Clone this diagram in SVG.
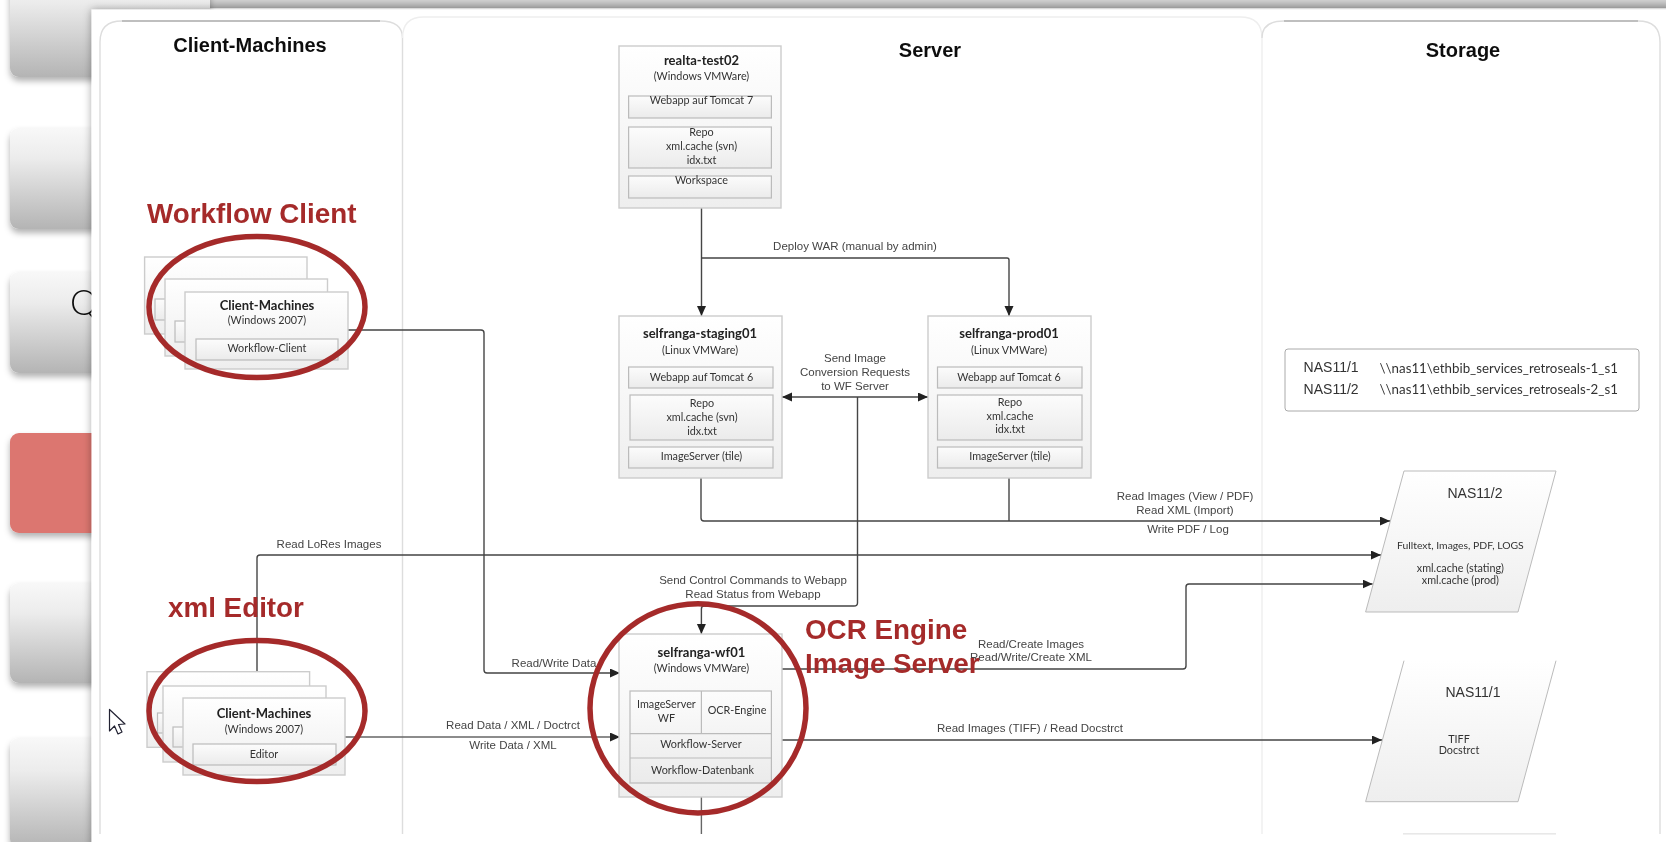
<svg xmlns="http://www.w3.org/2000/svg" width="1666" height="842" viewBox="0 0 1666 842">
<style>
.t{font-family:"Lato","Noto Sans",sans-serif;fill:#333;font-size:10.8px;text-anchor:middle}
.b{font-weight:700;font-size:13px;fill:#222}
.e{font-family:"Liberation Sans",Arial,sans-serif;fill:#444;font-size:11.5px;text-anchor:middle}
.h{font-family:"Liberation Sans",Arial,sans-serif;fill:#111;font-size:20px;font-weight:700;text-anchor:middle}
.a{font-family:"Liberation Sans",Arial,sans-serif;fill:#a52c2a;font-size:27.8px;font-weight:700}
.n{font-family:"Liberation Sans",Arial,sans-serif;fill:#333;font-size:14px}
.card{fill:url(#g1);stroke:#ccc;stroke-width:1.4}
.in{fill:url(#g2);stroke:#bbb;stroke-width:1.2}
.ring{fill:none;stroke:#a52c2a;stroke-width:5.5}
.panel{fill:none;stroke:#ddd;stroke-width:1.4}
.c{fill:none;stroke:#444;stroke-width:1.4;stroke-linejoin:round}
.btn{filter:url(#sh);fill:url(#g3)}
</style>
<defs>
<linearGradient id="g1" x1="0" y1="0" x2="0" y2="1"><stop offset="0" stop-color="#fff"/><stop offset="1" stop-color="#eee"/></linearGradient>
<linearGradient id="g2" x1="0" y1="0" x2="0" y2="1"><stop offset="0" stop-color="#fcfcfc"/><stop offset="1" stop-color="#ebebeb"/></linearGradient>
<linearGradient id="g3" x1="0" y1="0" x2="0" y2="1"><stop offset="0" stop-color="#f8f8f8"/><stop offset=".3" stop-color="#ececec"/><stop offset="1" stop-color="#b4b4b4"/></linearGradient>
<linearGradient id="g4" x1="0" y1="0" x2="0" y2="1"><stop offset="0" stop-color="#e8e8e8"/><stop offset="1" stop-color="#b0b0b0"/></linearGradient>
<filter id="sh" x="-10%" y="-10%" width="120%" height="125%"><feDropShadow dx="0" dy="4" stdDeviation="3" flood-color="#000" flood-opacity=".3"/></filter>
<filter id="ws" x="-5%" y="-5%" width="110%" height="110%"><feDropShadow dx="0" dy="0" stdDeviation="4" flood-color="#000" flood-opacity=".35"/></filter>
<filter id="soft" filterUnits="userSpaceOnUse" x="0" y="0" width="1666" height="842"><feGaussianBlur stdDeviation="0.45"/></filter>
<marker id="ar" markerUnits="userSpaceOnUse" markerWidth="11" markerHeight="10" refX="10" refY="4.5" orient="auto-start-reverse"><path d="M0 0L10 4.5L0 9z" fill="#222"/></marker>
</defs>
<rect width="1666" height="842" fill="#fff"/>
<g id="diagram" filter="url(#soft)">
<g id="background">
<rect x="91" y="-6" width="1575" height="14" fill="url(#g4)"/>
<rect class="btn" x="10" y="-30" width="200" height="107" rx="9"/>
<rect class="btn" x="10" y="128" width="200" height="101" rx="9"/>
<rect class="btn" x="10" y="272" width="200" height="101" rx="9"/>
<rect x="10" y="433" width="200" height="100" rx="9" fill="#dc7670" filter="url(#sh)"/>
<rect class="btn" x="10" y="583" width="200" height="100" rx="9"/>
<rect class="btn" x="10" y="738" width="200" height="110" rx="9"/>
<text x="70" y="315" font-family="Lato,sans-serif" font-size="35" font-weight="300" fill="#111">Q</text>
</g>
<rect id="window" x="91.5" y="9.500" width="1600" height="860" fill="#fff" filter="url(#ws)"/>
<g id="panels">
<path class="panel" d="M100 834V42Q100 21 122 21H380Q402.500 21 402.500 38V834"/>
<path d="M122 21H380" fill="none" stroke="#999" stroke-width="1"/>
<path class="panel" d="M402.500 38Q402.500 17 424 17H1240Q1262 17 1262 38V834" style="stroke:#eee"/>
<path class="panel" d="M1262 38Q1262 21 1284 21H1638Q1660 21 1660 42V834"/>
<path d="M1284 21H1638" fill="none" stroke="#999" stroke-width="1"/>
<text class="h" x="250" y="52">Client-Machines</text>
<text class="h" x="930" y="57">Server</text>
<text class="h" x="1463" y="57">Storage</text>
</g>
<g id="connectors">
<path class="c" d="M701.500 208V316" marker-end="url(#ar)"/>
<path class="c" d="M701.500 258H1007Q1009 258 1009 260V316" marker-end="url(#ar)"/>
<path class="c" d="M782 397H928" marker-start="url(#ar)" marker-end="url(#ar)"/>
<path class="c" d="M857.500 397V603Q857.500 606 854 606H704Q701.400 606 701.400 609V634" marker-end="url(#ar)"/>
<path class="c" d="M701 478V518Q701 521 704 521H1390" marker-end="url(#ar)"/>
<path class="c" d="M1009 478V521"/>
<path class="c" d="M348 330H481Q484 330 484 333V670Q484 673 487 673H620" marker-end="url(#ar)"/>
<path class="c" d="M257 672V558Q257 555 260 555H1381" marker-end="url(#ar)"/>
<path class="c" d="M345 737H620" marker-end="url(#ar)" style="stroke:#666"/>
<path class="c" d="M782 669H1183Q1186 669 1186 666V587Q1186 584 1189 584H1372.600" marker-end="url(#ar)"/>
<path class="c" d="M782 740H1382" marker-end="url(#ar)"/>
<path class="c" d="M701.400 797V834" style="stroke:#666"/>
<text class="e" x="855" y="250">Deploy WAR (manual by admin)</text>
<text class="e"><tspan x="855" y="362">Send Image</tspan><tspan x="855" y="376">Conversion Requests</tspan><tspan x="855" y="390">to WF Server</tspan></text>
<text class="e" x="329" y="548">Read LoRes Images</text>
<text class="e"><tspan x="753" y="584">Send Control Commands to Webapp</tspan><tspan x="753" y="598">Read Status from Webapp</tspan></text>
<text class="e" x="554" y="666.700">Read/Write Data</text>
<text class="e" x="513" y="728.700">Read Data / XML / Doctrct</text>
<text class="e" x="513" y="749">Write Data / XML</text>
<text class="e"><tspan x="1031" y="647.700">Read/Create Images</tspan><tspan x="1031" y="661">Read/Write/Create XML</tspan></text>
<text class="e" x="1030" y="731.700">Read Images (TIFF) / Read Docstrct</text>
<text class="e"><tspan x="1185" y="500">Read Images (View / PDF)</tspan><tspan x="1185" y="514">Read XML (Import)</tspan><tspan x="1188" y="532.700">Write PDF / Log</tspan></text>
</g>
<g id="client-workflow">
<rect class="card" x="144.600" y="257" width="162.400" height="77"/>
<rect class="in" x="155" y="299" width="40" height="21"/>
<rect class="card" x="165" y="279" width="162.500" height="77"/>
<rect class="in" x="175" y="321" width="40" height="21"/>
<rect class="card" x="185" y="292" width="163" height="77"/>
<rect class="in" x="196" y="339" width="142" height="21"/>
<text class="t b" x="267" y="309.500">Client-Machines</text>
<text class="t" x="267" y="324">(Windows 2007)</text>
<text class="t" x="267" y="352">Workflow-Client</text>
</g>
<g id="client-editor">
<rect class="card" x="147" y="671.700" width="162.600" height="75.600"/>
<rect class="in" x="157.500" y="713" width="40" height="20"/>
<rect class="card" x="163" y="686" width="163" height="76"/>
<rect class="in" x="173" y="727" width="40" height="20"/>
<rect class="card" x="183" y="698" width="162" height="77"/>
<rect class="in" x="193" y="744" width="143" height="21"/>
<text class="t b" x="264" y="717.700">Client-Machines</text>
<text class="t" x="264" y="732.700">(Windows 2007)</text>
<text class="t" x="264" y="758">Editor</text>
</g>
<g id="realta-test02">
<rect class="card" x="619" y="46" width="162" height="162"/>
<rect class="in" x="628.600" y="96" width="142.800" height="22"/>
<rect class="in" x="628.600" y="127" width="142.800" height="41"/>
<rect class="in" x="628.600" y="176" width="142.800" height="22"/>
<text class="t b" x="701.500" y="65">realta-test02</text>
<text class="t" x="701.500" y="80">(Windows VMWare)</text>
<text class="t" x="701.500" y="104">Webapp auf Tomcat 7</text>
<text class="t"><tspan x="701.500" y="136">Repo</tspan><tspan x="701.500" y="150">xml.cache (svn)</tspan><tspan x="701.500" y="164">idx.txt</tspan></text>
<text class="t" x="701.500" y="184">Workspace</text>
</g>
<g id="selfranga-staging01">
<rect class="card" x="619" y="316" width="163" height="162"/>
<rect class="in" x="628.600" y="367" width="144.400" height="21"/>
<rect class="in" x="630" y="395" width="143" height="45"/>
<rect class="in" x="628.600" y="447" width="144.400" height="21"/>
<text class="t b" x="700" y="338">selfranga-staging01</text>
<text class="t" x="700" y="353.700">(Linux VMWare)</text>
<text class="t" x="701.500" y="380.700">Webapp auf Tomcat 6</text>
<text class="t"><tspan x="702" y="407">Repo</tspan><tspan x="702" y="421">xml.cache (svn)</tspan><tspan x="702" y="434.700">idx.txt</tspan></text>
<text class="t" x="701.500" y="460">ImageServer (tile)</text>
</g>
<g id="selfranga-prod01">
<rect class="card" x="928" y="316" width="163" height="162"/>
<rect class="in" x="937.500" y="367" width="144.500" height="21"/>
<rect class="in" x="937.500" y="395" width="144.500" height="45"/>
<rect class="in" x="937.500" y="447" width="144.500" height="21"/>
<text class="t b" x="1009" y="338">selfranga-prod01</text>
<text class="t" x="1009" y="353.700">(Linux VMWare)</text>
<text class="t" x="1009" y="380.700">Webapp auf Tomcat 6</text>
<text class="t"><tspan x="1010" y="406">Repo</tspan><tspan x="1010" y="419.500">xml.cache</tspan><tspan x="1010" y="433">idx.txt</tspan></text>
<text class="t" x="1010" y="460">ImageServer (tile)</text>
</g>
<g id="selfranga-wf01">
<rect class="card" x="619" y="634" width="163" height="163"/>
<rect x="630" y="691" width="141.400" height="92" fill="url(#g2)" stroke="#bbb" stroke-width="1.2"/>
<path d="M701.400 691V733.700M630 733.700H771.400M630 758H771.400" fill="none" stroke="#bbb" stroke-width="1.2"/>
<text class="t b" x="701.400" y="657">selfranga-wf01</text>
<text class="t" x="701.400" y="672">(Windows VMWare)</text>
<text class="t"><tspan x="666.400" y="708">ImageServer</tspan><tspan x="666.400" y="722">WF</tspan></text>
<text class="t" x="737" y="714">OCR-Engine</text>
<text class="t" x="701" y="748">Workflow-Server</text>
<text class="t" x="702.500" y="773.700">Workflow-Datenbank</text>
</g>
<g id="legend">
<rect x="1285" y="349" width="354" height="62" rx="3" fill="#fff" stroke="#aaa" stroke-width="1"/>
<text class="n" x="1303.600" y="372">NAS11/1</text>
<text class="n" x="1303.600" y="394">NAS11/2</text>
<text class="t" style="text-anchor:start;font-size:13.3px" x="1379.600" y="372.700">\\nas11\ethbib_services_retroseals-1_s1</text>
<text class="t" style="text-anchor:start;font-size:13.3px" x="1379.600" y="394">\\nas11\ethbib_services_retroseals-2_s1</text>
</g>
<g id="nas11-2">
<path d="M1404 471H1556L1518 612H1365.600z" fill="url(#g1)" stroke="#bbb" stroke-width="1"/>
<text class="n" x="1475" y="498" text-anchor="middle">NAS11/2</text>
<text class="t" style="font-size:10.4px" x="1460.400" y="549.300">Fulltext, Images, PDF, LOGS</text>
<text class="t"><tspan x="1460.400" y="572">xml.cache (stating)</tspan><tspan x="1460.400" y="584">xml.cache (prod)</tspan></text>
</g>
<g id="nas11-1">
<path d="M1404 660.700H1556L1518 801.700H1365.600z" fill="url(#g1)" stroke="none"/>
<path d="M1404 660.700L1365.600 801.700H1518L1556 660.700" fill="none" stroke="#bbb" stroke-width="1"/>
<text class="n" x="1473" y="697" text-anchor="middle">NAS11/1</text>
<text class="t"><tspan x="1459" y="742.700">TIFF</tspan><tspan x="1459" y="754">Docstrct</tspan></text>
</g>
<rect id="nas-next" x="1403" y="833" width="153" height="1.600" fill="#e8e8e8"/>
<g id="annotations">
<ellipse class="ring" cx="257" cy="307" rx="108" ry="70.500"/>
<ellipse class="ring" cx="257" cy="711" rx="108" ry="70.500"/>
<ellipse class="ring" cx="698" cy="708.300" rx="108" ry="104.600"/>
<text class="a" x="147" y="222.700">Workflow Client</text>
<text class="a" x="168" y="617">xml Editor</text>
<text class="a" x="805" y="639.300">OCR Engine</text>
<text class="a" x="805" y="673">Image Server</text>
</g>
<path id="cursor" d="M109.500 709.500V731L114.500 726L118 734L122 732L118.500 724.500L125 724z" fill="#fff" stroke="#223" stroke-width="1.200" stroke-linejoin="round"/>
</g>
</svg>
